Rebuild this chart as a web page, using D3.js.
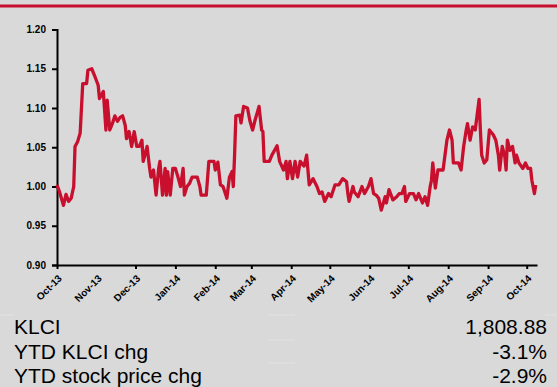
<!DOCTYPE html>
<html>
<head>
<meta charset="utf-8">
<script src="https://cdn.jsdelivr.net/npm/d3@7"></script>
<style>
  html, body { margin: 0; padding: 0; background: #d9d9d9; }
  svg { display: block; }
</style>
</head>
<body>
<svg id="chart" width="557" height="387"></svg>
<script>
// ---------- data ----------
const dates = [
"2013-10-01","2013-10-03","2013-10-06","2013-10-08","2013-10-10","2013-10-12","2013-10-14","2013-10-15",
"2013-10-17","2013-10-19","2013-10-21","2013-10-24","2013-10-25","2013-10-28","2013-10-30","2013-11-02",
"2013-11-03","2013-11-06","2013-11-07","2013-11-08","2013-11-09","2013-11-11","2013-11-13","2013-11-15",
"2013-11-17","2013-11-19","2013-11-21","2013-11-23","2013-11-24","2013-11-26","2013-11-28","2013-11-30",
"2013-12-02","2013-12-04","2013-12-06","2013-12-07","2013-12-10","2013-12-12","2013-12-13","2013-12-15",
"2013-12-17","2013-12-19","2013-12-20","2013-12-22","2013-12-24","2013-12-25","2013-12-26","2013-12-28",
"2013-12-30","2014-01-01","2014-01-03","2014-01-05","2014-01-07","2014-01-08","2014-01-10","2014-01-12",
"2014-01-14","2014-01-18","2014-01-20","2014-01-21","2014-01-25","2014-01-27","2014-01-31","2014-02-01",
"2014-02-03","2014-02-05","2014-02-07","2014-02-10","2014-02-12","2014-02-14","2014-02-15","2014-02-16",
"2014-02-17","2014-02-20","2014-02-21","2014-02-23","2014-02-26","2014-02-28","2014-03-02","2014-03-04",
"2014-03-07","2014-03-09","2014-03-10","2014-03-11","2014-03-15","2014-03-17","2014-03-21","2014-03-23",
"2014-03-26","2014-03-28","2014-03-29","2014-03-31","2014-04-02","2014-04-04","2014-04-06","2014-04-08",
"2014-04-11","2014-04-13","2014-04-15","2014-04-18","2014-04-21","2014-04-23","2014-04-25","2014-04-27",
"2014-04-30","2014-05-02","2014-05-05","2014-05-08","2014-05-11","2014-05-14","2014-05-15","2014-05-16",
"2014-05-19","2014-05-20","2014-05-23","2014-05-26","2014-05-28","2014-05-31","2014-06-02","2014-06-04",
"2014-06-06","2014-06-08","2014-06-10","2014-06-13","2014-06-14","2014-06-16","2014-06-19","2014-06-22",
"2014-06-24","2014-06-26","2014-06-28","2014-06-29","2014-07-02","2014-07-05","2014-07-07","2014-07-09",
"2014-07-12","2014-07-14","2014-07-16","2014-07-18","2014-07-19","2014-07-20","2014-07-22","2014-07-24",
"2014-07-28","2014-07-31","2014-08-02","2014-08-04","2014-08-05","2014-08-09","2014-08-11","2014-08-13",
"2014-08-15","2014-08-16","2014-08-18","2014-08-20","2014-08-22","2014-08-23","2014-08-25","2014-08-26",
"2014-08-27","2014-08-29","2014-08-31","2014-09-02","2014-09-05","2014-09-07","2014-09-09","2014-09-10",
"2014-09-12","2014-09-14","2014-09-15","2014-09-16","2014-09-18","2014-09-20","2014-09-22","2014-09-23",
"2014-09-25","2014-09-28","2014-09-30","2014-10-02","2014-10-04","2014-10-05","2014-10-07","2014-10-08"
];
const relPrice = [
1.002,0.993,0.976,0.990,0.981,0.985,1.000,1.051,
1.057,1.068,1.131,1.131,1.148,1.150,1.142,1.129,
1.112,1.121,1.097,1.072,1.110,1.072,1.080,1.090,
1.083,1.088,1.090,1.078,1.061,1.070,1.051,1.070,
1.051,1.051,1.059,1.032,1.051,1.023,1.012,1.021,
0.989,1.023,1.032,0.989,1.023,0.989,1.019,0.989,
1.023,1.023,1.012,1.000,1.023,0.989,1.000,1.004,
1.012,1.012,1.000,0.989,0.989,1.032,1.032,1.021,
1.031,1.002,1.000,0.985,1.012,1.019,1.000,1.040,
1.090,1.091,1.081,1.102,1.100,1.083,1.072,1.085,
1.102,1.072,1.070,1.032,1.032,1.040,1.052,1.032,
1.021,1.032,1.010,1.032,1.010,1.032,1.012,1.032,
1.026,1.040,1.002,1.010,1.000,0.991,0.993,0.981,
0.991,0.987,1.002,1.002,1.010,1.006,0.991,0.981,
1.000,0.993,0.987,1.000,0.991,1.000,1.010,0.991,
0.989,0.985,0.970,0.987,0.979,0.996,0.983,0.987,
0.991,0.991,1.000,0.981,0.991,0.991,0.983,0.991,
0.979,0.987,0.976,1.000,1.008,1.030,0.998,1.021,
1.021,1.059,1.072,1.059,1.030,1.030,1.021,1.051,
1.072,1.080,1.059,1.076,1.072,1.085,1.111,1.072,
1.040,1.030,1.034,1.072,1.066,1.059,1.040,1.021,
1.051,1.038,1.021,1.059,1.046,1.051,1.030,1.040,
1.030,1.023,1.030,1.023,1.023,1.008,0.991,1.002
];
const yTicks = [0.90, 0.95, 1.00, 1.05, 1.10, 1.15, 1.20];
const monthTicks = ["2013-10-01","2013-11-01","2013-12-01","2014-01-01","2014-02-01","2014-03-01",
  "2014-04-01","2014-05-01","2014-06-01","2014-07-01","2014-08-01","2014-09-01","2014-10-01"];
const monthLabels = ["Oct-13","Nov-13","Dec-13","Jan-14","Feb-14","Mar-14","Apr-14",
  "May-14","Jun-14","Jul-14","Aug-14","Sep-14","Oct-14"];
const tableLabels = ["KLCI", "YTD KLCI chg", "YTD stock price chg"];
const tableValues = ["1,808.88", "-3.1%", "-2.9%"];

// ---------- drawing ----------
const RED = "#c8102e";
const parse = d3.timeParse("%Y-%m-%d");
const svg = d3.select("#chart");
const data = dates.map((d, i) => ({ date: parse(d), v: relPrice[i] }));

const x = d3.scaleTime()
  .domain([parse("2013-10-01"), parse("2014-10-09")])
  .range([57, 537]);
const y = d3.scaleLinear().domain([0.90, 1.20]).range([265, 29.5]);

// top red rule
svg.append("line").attr("x1", 0).attr("x2", 557).attr("y1", 6).attr("y2", 6)
  .attr("stroke", RED).attr("stroke-width", 3);

// y axis
const yAxis = d3.axisLeft(y).tickValues(yTicks).tickFormat(d3.format(".2f"))
  .tickSize(5).tickPadding(6);
const gy = svg.append("g").attr("transform", "translate(57,0)").call(yAxis);
gy.select(".domain").attr("stroke", "#000").attr("stroke-width", 2);
gy.selectAll(".tick line").attr("stroke", "#000").attr("stroke-width", 2);
gy.selectAll(".tick text").attr("fill", "#000")
  .style("font-family", "Arial, 'Liberation Sans', sans-serif")
  .style("font-size", "10px").style("font-weight", "bold");

// x axis
const xAxis = d3.axisBottom(x).tickValues(monthTicks.map(parse))
  .tickFormat((d, i) => monthLabels[i]).tickSize(4).tickSizeOuter(0);
const gx = svg.append("g").attr("transform", "translate(0,265)").call(xAxis);
gx.select(".domain").attr("stroke", "#000").attr("stroke-width", 2);
gx.selectAll(".tick line").attr("stroke", "#000").attr("stroke-width", 2)
  .attr("opacity", (d, i) => i === 1 ? 0 : 1);
gx.selectAll(".tick text")
  .attr("fill", "#000")
  .attr("text-anchor", "end")
  .attr("x", 0).attr("y", 0).attr("dy", 0)
  .attr("transform", "translate(5,14) rotate(-45)")
  .style("font-family", "Arial, 'Liberation Sans', sans-serif")
  .style("font-size", "10px").style("font-weight", "bold");

// line
const line = d3.line().x(d => x(d.date)).y(d => y(d.v));
svg.append("path").datum(data)
  .attr("fill", "none").attr("stroke", RED).attr("stroke-width", 3.3)
  .attr("stroke-linejoin", "round").attr("d", line);

// table below
const rowY = [334, 359, 383];
const tg = svg.append("g").style("font-family", "Arial, 'Liberation Sans', sans-serif")
  .style("font-size", "21px").attr("fill", "#000");
tg.selectAll("text.lab").data(tableLabels).join("text").attr("class", "lab")
  .attr("x", 14).attr("y", (d, i) => rowY[i]).text(d => d);
tg.selectAll("text.val").data(tableValues).join("text").attr("class", "val")
  .attr("x", 547).attr("y", (d, i) => rowY[i]).attr("text-anchor", "end").text(d => d);

// faint table rules
const faint = [[0, 14, 315], [268, 295, 315], [545, 557, 315], [268, 295, 340], [268, 295, 363]];
svg.selectAll("line.faint").data(faint).join("line").attr("class", "faint")
  .attr("x1", d => d[0]).attr("x2", d => d[1]).attr("y1", d => d[2]).attr("y2", d => d[2])
  .attr("stroke", "#e2e2e2").attr("stroke-width", 1);
</script>
</body>
</html>
